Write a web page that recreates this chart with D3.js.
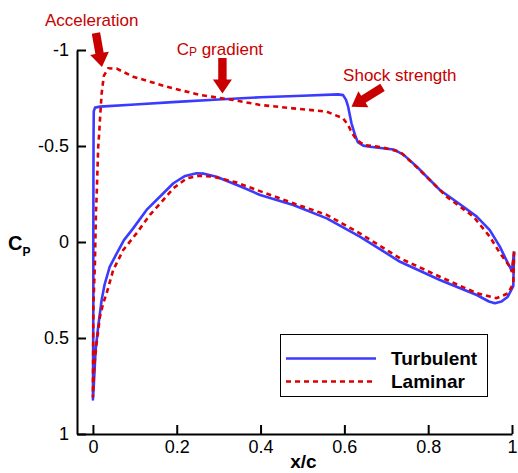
<!DOCTYPE html>
<html>
<head>
<meta charset="utf-8">
<script src="https://cdn.jsdelivr.net/npm/d3@7"></script>
<style>
  body { margin: 0; background: #fff; }
  svg { display: block; font-family: "Liberation Sans", Arial, Helvetica, sans-serif; }
</style>
</head>
<body>
<div id="main"></div>
<script>
// surface pressure data, [x/c, Cp], leading edge -> trailing edge
const turbUpper = [
  [0.000, 0.82], [0.0005, 0.60], [0.001, 0.30], [0.001, 0.0], [0.0012, -0.30],
  [0.0015, -0.55], [0.002, -0.68], [0.005, -0.70], [0.017, -0.705], [0.10, -0.716],
  [0.20, -0.730], [0.30, -0.742], [0.40, -0.754], [0.50, -0.762], [0.585, -0.769],
  [0.597, -0.765], [0.604, -0.74], [0.609, -0.705], [0.617, -0.618], [0.625, -0.56],
  [0.632, -0.52], [0.645, -0.502], [0.661, -0.496], [0.717, -0.482], [0.741, -0.455],
  [0.773, -0.392], [0.828, -0.271], [0.880, -0.19], [0.916, -0.132], [0.947, -0.062],
  [0.971, 0.024], [0.990, 0.11], [1.0, 0.15], [1.005, 0.05]
];
const turbLower = [
  [0.000, 0.82], [0.0024, 0.734], [0.0064, 0.563], [0.0126, 0.441], [0.0208, 0.302],
  [0.028, 0.22], [0.040, 0.13], [0.0525, 0.077], [0.074, -0.01], [0.096, -0.071],
  [0.128, -0.167], [0.168, -0.254], [0.192, -0.306], [0.22, -0.344], [0.247, -0.358],
  [0.265, -0.356], [0.295, -0.340], [0.351, -0.29], [0.399, -0.245], [0.478, -0.193],
  [0.558, -0.123], [0.637, -0.028], [0.733, 0.103], [0.828, 0.198], [0.916, 0.276],
  [0.945, 0.31], [0.959, 0.319], [0.975, 0.31], [0.990, 0.285], [1.003, 0.23], [1.005, 0.05]
];
const lamUpper = [
  [0.000, 0.81], [0.0005, 0.60], [0.001, 0.337], [0.0048, 0.109], [0.0072, -0.151],
  [0.0088, -0.236], [0.0126, -0.496], [0.015, -0.568], [0.0167, -0.635], [0.0208, -0.774],
  [0.026, -0.865], [0.0365, -0.905], [0.0566, -0.903], [0.096, -0.861], [0.176, -0.809],
  [0.255, -0.766], [0.334, -0.740], [0.399, -0.714], [0.478, -0.696], [0.558, -0.679],
  [0.597, -0.644], [0.609, -0.609], [0.618, -0.568], [0.630, -0.531], [0.647, -0.505],
  [0.685, -0.495], [0.733, -0.470], [0.780, -0.375], [0.844, -0.236], [0.908, -0.132],
  [0.947, -0.028], [0.971, 0.057], [0.995, 0.129], [1.0, 0.156], [1.005, 0.05]
];
const lamLower = [
  [0.000, 0.81], [0.003, 0.649], [0.0088, 0.528], [0.0167, 0.389], [0.0246, 0.319],
  [0.0327, 0.267], [0.0484, 0.146], [0.0723, 0.042], [0.104, -0.045], [0.136, -0.141],
  [0.168, -0.219], [0.192, -0.280], [0.224, -0.332], [0.255, -0.345], [0.287, -0.340],
  [0.339, -0.3125], [0.406, -0.259], [0.478, -0.202], [0.558, -0.141], [0.637, -0.045],
  [0.733, 0.085], [0.828, 0.181], [0.916, 0.267], [0.963, 0.293], [0.991, 0.267],
  [1.003, 0.215], [1.005, 0.05]
];

const xTicks = [0, 0.2, 0.4, 0.6, 0.8, 1];
const yTicks = [-1, -0.5, 0, 0.5, 1];
const seriesNames = ["Turbulent", "Laminar"];

// annotations: label, text anchor point, arrow tail, arrow tip (data coords)
const notes = [
  { label: "Acceleration", at: [-0.1146, -1.125], tail: [0.0072, -1.089], tip: [0.0215, -0.911] },
  { label: "C", sub: "P", rest: " gradient", at: [0.1998, -0.974], tail: [0.309, -0.958], tip: [0.309, -0.774] },
  { label: "Shock strength", at: [0.597, -0.839], tail: [0.691, -0.805], tip: [0.617, -0.705] }
];

const W = 518, H = 473;
const x = d3.scaleLinear().domain([-0.038, 1]).range([77, 512]);
const y = d3.scaleLinear().domain([-1, 1]).range([50, 434]);

const svg = d3.select("#main").append("svg")
  .attr("width", W).attr("height", H);

const fmt = d => String(d);

// axes
const xAxis = svg.append("g")
  .attr("transform", `translate(0, ${y(1)})`)
  .call(d3.axisBottom(x).tickValues(xTicks).tickFormat(fmt)
    .tickSizeInner(-9).tickSizeOuter(0).tickPadding(6));
const yAxis = svg.append("g")
  .attr("transform", `translate(${x.range()[0]}, 0)`)
  .call(d3.axisLeft(y).tickValues(yTicks).tickFormat(fmt)
    .tickSizeInner(-9).tickSizeOuter(0).tickPadding(8));

[xAxis, yAxis].forEach(a => {
  a.select(".domain").attr("stroke", "#000").attr("stroke-width", 2);
  a.selectAll(".tick line").attr("stroke", "#000").attr("stroke-width", 2);
  a.selectAll(".tick text").attr("fill", "#000")
    .style("font-size", "18px")
    .style("font-family", "'Liberation Sans', Arial, sans-serif");
});

// curves
const line = d3.line().x(d => x(d[0])).y(d => y(d[1]));
const loop = (up, low) => up.slice().reverse().concat(low.slice(1));

svg.append("path")
  .attr("d", line(loop(turbUpper, turbLower)))
  .attr("fill", "none")
  .attr("stroke", "#3b3bff")
  .attr("stroke-width", 2.6)
  .attr("stroke-linejoin", "round");

svg.append("path")
  .attr("d", line(loop(lamUpper, lamLower)))
  .attr("fill", "none")
  .attr("stroke", "#dd0000")
  .attr("stroke-width", 2.6)
  .attr("stroke-dasharray", "5,4");

// axis titles
const cpLabel = svg.append("text")
  .attr("x", 8).attr("y", 250)
  .attr("font-weight", "bold").attr("font-size", 20)
  .text("C");
cpLabel.append("tspan").attr("font-size", 12).attr("dy", 6).text("P");

svg.append("text")
  .attr("x", (x(0) + x(1)) / 2 + 1).attr("y", 468)
  .attr("text-anchor", "middle")
  .attr("font-weight", "bold").attr("font-size", 19)
  .text("x/c");

// annotations
const red = "#c80000";
function arrowPoints(t0, t1) {
  const ax = x(t0[0]), ay = y(t0[1]), bx = x(t1[0]), by = y(t1[1]);
  const len = Math.hypot(bx - ax, by - ay);
  const ux = (bx - ax) / len, uy = (by - ay) / len;
  const nx = -uy, ny = ux;
  const sw = 4.2, hw = 9.5, hl = 14;
  const hx = bx - ux * hl, hy = by - uy * hl;
  return [
    [ax + nx * sw, ay + ny * sw], [hx + nx * sw, hy + ny * sw], [hx + nx * hw, hy + ny * hw],
    [bx, by],
    [hx - nx * hw, hy - ny * hw], [hx - nx * sw, hy - ny * sw], [ax - nx * sw, ay - ny * sw]
  ].map(p => p.join(",")).join(" ");
}

notes.forEach(n => {
  svg.append("polygon").attr("points", arrowPoints(n.tail, n.tip)).attr("fill", red);
  const t = svg.append("text")
    .attr("x", x(n.at[0])).attr("y", y(n.at[1]))
    .attr("fill", red).attr("font-size", 17)
    .text(n.label);
  if (n.sub) {
    t.append("tspan").attr("font-size", 12).attr("dy", 1).text(n.sub);
    t.append("tspan").attr("dy", -1).text(n.rest);
  }
});

// legend
const legend = svg.append("g").attr("id", "legend");
legend.append("rect")
  .attr("x", 280.5).attr("y", 334.5).attr("width", 207).attr("height", 62)
  .attr("fill", "#fff").attr("stroke", "#000").attr("stroke-width", 1);

const legItems = legend.selectAll("g.item")
  .data(seriesNames).enter().append("g")
  .attr("class", "item")
  .attr("transform", (d, i) => `translate(0, ${358.5 + i * 23})`);

legItems.append("line")
  .attr("x1", 286).attr("x2", 376)
  .attr("stroke", (d, i) => i === 0 ? "#3b3bff" : "#dd0000")
  .attr("stroke-width", 2.6)
  .attr("stroke-dasharray", (d, i) => i === 0 ? null : "5,4");

legItems.append("text")
  .attr("x", 391).attr("y", 6.5)
  .attr("font-weight", "bold").attr("font-size", 19)
  .text(d => d);
</script>
</body>
</html>
